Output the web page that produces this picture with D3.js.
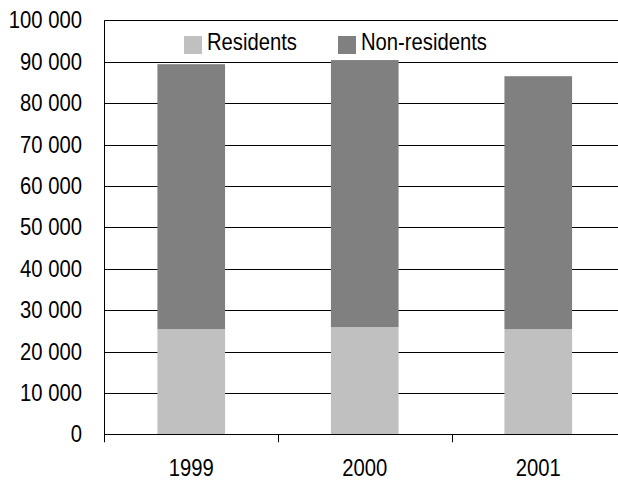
<!DOCTYPE html>
<html>
<head>
<meta charset="utf-8">
<script src="https://cdn.jsdelivr.net/npm/d3@7"></script>
<style>
  html, body { margin: 0; padding: 0; background: #fff; }
  svg { display: block; font-family: "Liberation Sans", Arial, sans-serif; }
</style>
</head>
<body>
<svg id="chart" width="618" height="482"></svg>
<script>
// Visitors by year, split into residents and non-residents
const years = ["1999", "2000", "2001"];
const residents = [25400, 25900, 25400];
const nonResidents = [64000, 64500, 61100];
const seriesNames = ["Residents", "Non-residents"];
const seriesColors = ["#c0c0c0", "#808080"];
const yTicks = [0, 10000, 20000, 30000, 40000, 50000, 60000, 70000, 80000, 90000, 100000];

const svg = d3.select("#chart");
const plotLeft = 104.5, plotTop = 20.3, plotBottom = 434.3, plotRight = 625;
const fontSize = 23, squeeze = 0.88;   // narrow, tall lettering

const x = d3.scaleBand().domain(years).range([plotLeft, plotRight])
  .paddingInner(0.61).paddingOuter(0.305);
const step = x.step();
const y = d3.scaleLinear().domain([0, 100000]).range([plotBottom, plotTop]);

const fmt = v => d3.format(",")(v).replace(/,/g, " ");
const place = (px, py) => `translate(${px},${py}) scale(${squeeze},1)`;

// horizontal gridlines
svg.append("g").selectAll("line").data(yTicks.filter(d => d > 0)).join("line")
  .attr("x1", plotLeft).attr("x2", 618)
  .attr("y1", d => Math.round(y(d)) + 0.5).attr("y2", d => Math.round(y(d)) + 0.5)
  .attr("stroke", "#000").attr("stroke-width", 1);

// stacked bars
const rows = years.map((yr, i) => ({ year: yr, values: [residents[i], nonResidents[i]] }));
const stack = d3.stack().keys([0, 1]).value((d, k) => d.values[k]);
const layers = stack(rows);
svg.append("g").selectAll("g").data(layers).join("g")
  .attr("fill", (d, i) => seriesColors[i])
  .selectAll("rect").data(d => d).join("rect")
  .attr("x", d => x(d.data.year))
  .attr("width", x.bandwidth())
  .attr("y", d => y(d[1]))
  .attr("height", d => y(d[0]) - y(d[1]));

// y axis line
svg.append("line")
  .attr("x1", plotLeft).attr("x2", plotLeft).attr("y1", plotTop).attr("y2", plotBottom + 8)
  .attr("stroke", "#000");
// x axis line and category separators
svg.append("line")
  .attr("x1", plotLeft).attr("x2", 618)
  .attr("y1", Math.round(plotBottom) + 0.5).attr("y2", Math.round(plotBottom) + 0.5)
  .attr("stroke", "#000");
svg.append("g").selectAll("line").data(years.slice(1)).join("line")
  .attr("x1", d => Math.round(x(d) - x.paddingOuter() * step) + 0.5)
  .attr("x2", d => Math.round(x(d) - x.paddingOuter() * step) + 0.5)
  .attr("y1", plotBottom).attr("y2", plotBottom + 8)
  .attr("stroke", "#000");

// y tick labels
svg.append("g").selectAll("text").data(yTicks).join("text")
  .attr("transform", d => place(82, y(d) + 8))
  .attr("text-anchor", "end")
  .attr("font-size", fontSize)
  .attr("fill", "#000")
  .text(fmt);

// x tick labels
svg.append("g").selectAll("text").data(years).join("text")
  .attr("transform", d => place(x(d) + x.bandwidth() / 2, 476))
  .attr("text-anchor", "middle")
  .attr("font-size", fontSize)
  .attr("fill", "#000")
  .text(d => d);

// legend
const legendX = [184, 338];
const legend = svg.append("g").selectAll("g").data(seriesNames).join("g")
  .attr("transform", (d, i) => `translate(${legendX[i]},36)`);
legend.append("rect").attr("width", 18).attr("height", 18)
  .attr("fill", (d, i) => seriesColors[i]);
legend.append("text").attr("transform", place(23, 14))
  .attr("font-size", fontSize).attr("fill", "#000")
  .text(d => d);
</script>
</body>
</html>
